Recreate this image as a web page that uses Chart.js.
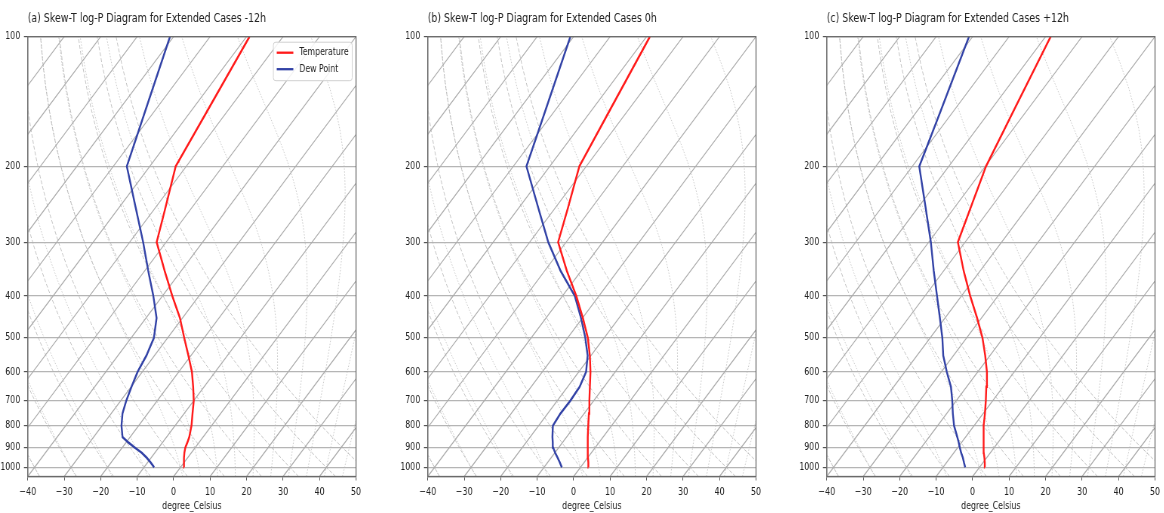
<!DOCTYPE html>
<html><head><meta charset="utf-8">
<script src="https://cdn.jsdelivr.net/npm/chart.js@4.4.1/dist/chart.umd.min.js"></script>
<style>
html,body{margin:0;padding:0;background:#fff;width:1164px;height:513px;overflow:hidden;}
canvas{position:absolute;top:0;transform-origin:0 0;}
</style></head><body>
<canvas id="c0" width="480" height="513"></canvas>
<canvas id="c1" width="480" height="513"></canvas>
<canvas id="c2" width="480" height="513"></canvas>
<script>
// ---------------- data (true temperatures, degC) ----------------
const pressureLevels = [1000, 975, 950, 925, 900, 875, 850, 800, 750, 700, 650, 600, 550, 500, 450, 400, 350, 300, 250, 200, 150, 100];

const tempMinus12 = [1.0, 0.0, -1.0, -1.9, -2.7, -3.2, -3.8, -5.5, -7.7, -10.0, -13.0, -16.4, -20.7, -25.5, -30.7, -37.3, -44.5, -52.6, -57.2, -62.9, -65.5, -69.2];
const dewMinus12  = [-7.2, -9.1, -11.2, -13.6, -16.5, -19.4, -22.1, -24.7, -26.9, -28.5, -29.9, -31.3, -32.2, -33.8, -37.1, -42.5, -49.0, -56.3, -65.3, -76.3, -82.4, -91.0];

const temp0h = [2.2, 1.2, 0.1, -1.0, -2.0, -3.1, -4.2, -6.4, -8.7, -11.2, -13.9, -16.8, -20.3, -24.5, -29.9, -36.2, -43.9, -52.2, -56.5, -61.9, -64.9, -69.1];
const dew0h  = [-5.1, -6.6, -8.2, -9.9, -11.5, -12.7, -13.9, -16.1, -16.5, -16.4, -16.7, -18.0, -20.9, -25.2, -30.4, -36.6, -45.6, -54.9, -64.6, -76.4, -82.4, -90.9];

const tempPlus12 = [1.5, 0.5, -0.6, -1.8, -2.9, -4.0, -5.1, -7.3, -9.5, -11.9, -14.6, -17.5, -21.3, -25.7, -31.2, -37.6, -44.5, -52.0, -55.5, -59.8, -63.5, -68.6];
const dewPlus12  = [-3.9, -5.2, -6.5, -8.0, -9.4, -10.8, -12.3, -15.5, -18.3, -21.1, -24.3, -28.5, -32.8, -36.7, -41.4, -46.7, -52.7, -59.4, -67.8, -78.1, -83.4, -91.0];

const panelTitles = [
  '(a) Skew-T log-P Diagram for Extended Cases -12h',
  '(b) Skew-T log-P Diagram for Extended Cases 0h',
  '(c) Skew-T log-P Diagram for Extended Cases +12h'
];
const seriesNames = ['Temperature', 'Dew Point'];
const pressureTicks = [100, 200, 300, 400, 500, 600, 700, 800, 900, 1000];
const tempTicks = [-40, -30, -20, -10, 0, 10, 20, 30, 40, 50];
const xAxisTitle = 'degree_Celsius';

// ---------------- diagram geometry ----------------
const X_MIN = -40, X_MAX = 50, P_BOT = 1050, P_TOP = 100;
const SX = 0.755;
const FONT = "'DejaVu Sans', 'Liberation Sans', sans-serif";

function skewX(T, p) {
  return T + (X_MAX - X_MIN) * Math.log(P_BOT / p) / Math.log(P_BOT / P_TOP);
}
function profile(temps) {
  return pressureLevels.map((p, i) => ({ x: skewX(temps[i], p), y: p }));
}

// background thermodynamic guides
const guideP = [];
for (let i = 0; i <= 60; i++) guideP.push(P_BOT - (P_BOT - P_TOP) * i / 60);

function dryAdiabat(t0) {
  const th = t0 + 273.15;
  return guideP.map(p => ({ x: skewX(th * Math.pow(p / 1000, 0.28571) - 273.15, p), y: p }));
}
function moistRate(P, T) {
  const Rd = 287.04749, Cp = 1004.6662, Lv = 2.50084e6, eps = 0.6219569;
  const Tc = T - 273.15;
  const es = 6.112 * Math.exp(17.67 * Tc / (Tc + 243.5));
  const rs = eps * es / (P - es);
  return (Rd * T + Lv * rs) / (Cp + (Lv * Lv * rs * eps) / (Rd * T * T)) / P;
}
function integrate(T, p0, p1) {
  const n = Math.max(1, Math.ceil(Math.abs(p1 - p0) / 2));
  const h = (p1 - p0) / n;
  let P = p0;
  for (let i = 0; i < n; i++) {
    const k1 = moistRate(P, T);
    const k2 = moistRate(P + h / 2, T + h / 2 * k1);
    const k3 = moistRate(P + h / 2, T + h / 2 * k2);
    const k4 = moistRate(P + h, T + h * k3);
    T += h / 6 * (k1 + 2 * k2 + 2 * k3 + k4);
    P += h;
  }
  return T;
}
function moistAdiabat(t0) {
  return guideP.map(p => ({ x: skewX(integrate(t0 + 273.15, 1000, p) - 273.15, p), y: p }));
}

function guideDatasets() {
  const sets = [];
  for (let t = -130; t <= 50; t += 10) {
    sets.push({ data: [{ x: skewX(t, P_BOT), y: P_BOT }, { x: skewX(t, P_TOP), y: P_TOP }],
      borderColor: '#ababab', borderWidth: 1.1 });
  }
  for (let t = -40; t <= 50; t += 10) {
    sets.push({ data: dryAdiabat(t), borderColor: 'rgba(175,175,175,0.75)', borderWidth: 1,
      borderDash: [4, 2] });
  }
  const moistT0 = [-40, -30, -20, -10, 0, 5, 10, 15, 20, 25, 30, 35, 40, 45, 50];
  moistT0.forEach(t => {
    sets.push({ data: moistAdiabat(t), borderColor: 'rgba(185,185,185,0.75)', borderWidth: 1,
      borderDash: [1.5, 1.5] });
  });
  return sets;
}

// ---------------- plugins ----------------
const framePlugin = {
  id: 'frame',
  afterDatasetsDraw(chart) {
    const a = chart.chartArea, ctx = chart.ctx;
    ctx.save();
    ctx.strokeStyle = '#6a6a6a';
    ctx.lineWidth = 1.3;
    ctx.strokeRect(a.left, a.top, a.right - a.left, a.bottom - a.top);
    ctx.restore();
  }
};
const legendPlugin = {
  id: 'skewLegend',
  afterDraw(chart, args, opts) {
    if (!opts.show) return;
    const ctx = chart.ctx, a = chart.chartArea;
    const w = 104.5, h = 38.5;
    const x = a.right - 5 - w, y = a.top + 5.5;
    ctx.save();
    ctx.fillStyle = 'rgba(255,255,255,0.85)';
    ctx.strokeStyle = '#d0d0d0';
    ctx.lineWidth = 1;
    ctx.beginPath();
    ctx.roundRect(x, y, w, h, 3);
    ctx.fill(); ctx.stroke();
    ctx.font = '10.3px ' + FONT;
    ctx.textBaseline = 'middle';
    [0, 1].forEach(i => {
      const ds = chart.data.datasets[i];
      const ly = y + 10.5 + i * 16.5;
      ctx.strokeStyle = ds.borderColor;
      ctx.lineWidth = 2.3;
      ctx.beginPath(); ctx.moveTo(x + 4.5, ly); ctx.lineTo(x + 26.5, ly); ctx.stroke();
      ctx.fillStyle = '#222';
      ctx.fillText(ds.label, x + 34.5, ly);
    });
    ctx.restore();
  }
};

// ---------------- charts ----------------
const panels = [
  { temp: tempMinus12, dew: dewMinus12, left: 0, legend: true },
  { temp: temp0h, dew: dew0h, left: 399.6, legend: false },
  { temp: tempPlus12, dew: dewPlus12, left: 799.0, legend: false }
];

panels.forEach((pn, idx) => {
  const cv = document.getElementById('c' + idx);
  cv.style.left = pn.left + 'px';
  cv.style.transform = 'scaleX(' + SX + ')';
  const datasets = [
    { label: seriesNames[0], data: profile(pn.temp), borderColor: '#ff1a1a', borderWidth: 2.4 },
    { label: seriesNames[1], data: profile(pn.dew), borderColor: '#3242a6', borderWidth: 2.4 }
  ].concat(guideDatasets());
  datasets.forEach(d => { d.showLine = true; d.pointRadius = 0; d.tension = 0; d.clip = 0; d.fill = false; });

  new Chart(cv, {
    type: 'scatter',
    data: { datasets },
    plugins: [framePlugin, legendPlugin],
    options: {
      responsive: false,
      animation: false,
      devicePixelRatio: 1,
      layout: { autoPadding: false, padding: { left: 0, right: 8.5, top: 0, bottom: 0 } },
      events: [],
      plugins: {
        legend: { display: false },
        tooltip: { enabled: false },
        title: {
          display: true, text: panelTitles[idx], align: 'start', fullSize: false,
          color: '#222', font: { family: FONT, size: 12.5, weight: 'normal', lineHeight: 1.2 },
          padding: { top: 11.5, bottom: 10.2 }
        },
        skewLegend: { show: pn.legend }
      },
      scales: {
        x: {
          type: 'linear', min: X_MIN, max: X_MAX,
          afterBuildTicks: s => { s.ticks = tempTicks.map(v => ({ value: v })); },
          afterFit: s => { s.height = 36.5; s.paddingLeft = 0; s.paddingRight = 0; },
          ticks: {
            color: '#222', font: { family: FONT, size: 10.6 }, padding: 5, maxRotation: 0, autoSkip: false,
            callback: v => (v < 0 ? '\u2212' + Math.abs(v) : String(v))
          },
          grid: { drawOnChartArea: false, drawTicks: true, tickLength: 4, tickColor: '#555' },
          border: { display: true, color: '#6a6a6a', width: 1.3 },
          title: { display: true, text: xAxisTitle, color: '#222', font: { family: FONT, size: 10.4 }, padding: { top: 0, bottom: 0 } }
        },
        y: {
          type: 'logarithmic', min: P_TOP, max: P_BOT, reverse: true,
          afterBuildTicks: s => { s.ticks = pressureTicks.map(v => ({ value: v })); },
          afterFit: s => { s.width = 36.69; s.paddingTop = 0; s.paddingBottom = 0; },
          ticks: { color: '#222', font: { family: FONT, size: 10.3 }, padding: 5, autoSkip: false,
            callback: v => String(v) },
          grid: { color: '#b5b5b5', lineWidth: 1.2, drawTicks: true, tickLength: 5, tickColor: '#555' },
          border: { display: true, color: '#6a6a6a', width: 1.3 }
        }
      }
    }
  });
});
</script>
</body></html>
